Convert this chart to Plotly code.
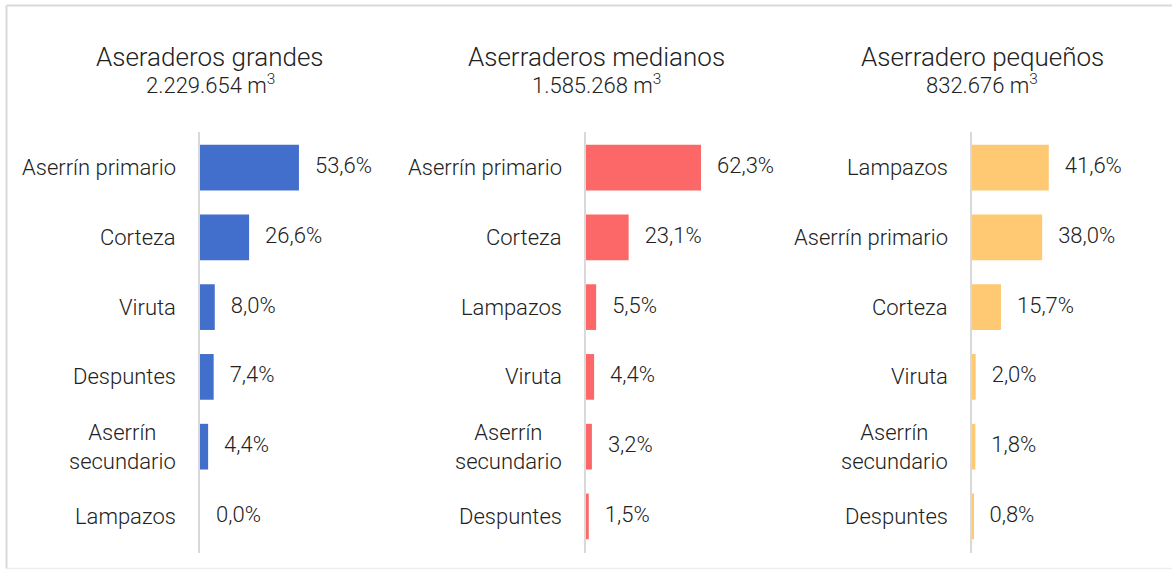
import plotly.graph_objects as go

W, H = 1172, 570

# panel data (top to bottom)
grandes_cat = ["Aserrín primario", "Corteza", "Viruta", "Despuntes", "Aserrín secundario", "Lampazos"]
grandes_val = [53.6, 26.6, 8.0, 7.4, 4.4, 0.0]

medianos_cat = ["Aserrín primario", "Corteza", "Lampazos", "Viruta", "Aserrín secundario", "Despuntes"]
medianos_val = [62.3, 23.1, 5.5, 4.4, 3.2, 1.5]

pequenos_cat = ["Lampazos", "Aserrín primario", "Corteza", "Viruta", "Aserrín secundario", "Despuntes"]
pequenos_val = [41.6, 38.0, 15.7, 2.0, 1.8, 0.8]

titles = ["Aseraderos grandes", "Aserraderos medianos", "Aserradero pequeños"]
volumes = ["2.229.654", "1.585.268", "832.676"]
colors = ["#426ECC", "#FC6868", "#FFC973"]

panels = [
    (grandes_cat, grandes_val),
    (medianos_cat, medianos_val),
    (pequenos_cat, pequenos_val),
]

FONT = "Roboto"
axis_px = [200, 586, 972]
panel_w = 191
xmax = panel_w / 1.846
ydom = [1 - 552.5 / H, 1 - 131.5 / H]

fig = go.Figure()
annotations = []

for i, (cats, vals) in enumerate(panels):
    n = str(i + 1) if i else ""
    xa, ya = "x" + n, "y" + n
    fig.add_trace(go.Bar(
        x=vals, y=cats, orientation="h",
        marker=dict(color=colors[i], line=dict(width=0)),
        xaxis=xa, yaxis=ya, hoverinfo="skip", showlegend=False,
    ))
    labels = [f"{v:.1f}".replace(".", ",") + "%" for v in vals]
    fig.add_trace(go.Scatter(
        x=vals, y=cats, mode="markers+text", text=labels,
        textposition="middle right",
        textfont=dict(family=FONT, size=22, color="#222222", weight=300),
        marker=dict(size=24, opacity=0),
        cliponaxis=True, xaxis=xa, yaxis=ya, hoverinfo="skip", showlegend=False,
    ))
    x0 = axis_px[i] / W
    fig.layout["xaxis" + n] = dict(
        domain=[x0, (axis_px[i] + panel_w) / W], range=[0, xmax], anchor=ya,
        showgrid=False, zeroline=False, showline=False, showticklabels=False,
        fixedrange=True,
    )
    fig.layout["yaxis" + n] = dict(
        domain=ydom, anchor=xa, type="category",
        categoryorder="array", categoryarray=cats, autorange="reversed",
        showgrid=False, zeroline=False, showticklabels=False,
        showline=True, linecolor="#d9d9d9", linewidth=2, fixedrange=True,
    )
    for c in cats:
        annotations.append(dict(
            x=0, y=c, xref=xa + " domain", yref=ya,
            text=c.replace("Aserrín secundario", "Aserrín<br>secundario"),
            xanchor="right", yanchor="middle", align="center", xshift=-22,
            showarrow=False, font=dict(family=FONT, size=22, color="#222222", weight=300),
        ))
    cx = (axis_px[i] + 10) / W
    annotations.append(dict(
        x=cx, y=1 - 57 / H, xref="paper", yref="paper", text=titles[i],
        xanchor="center", yanchor="middle", showarrow=False,
        font=dict(family=FONT, size=26, color="#222222", weight=300),
    ))
    annotations.append(dict(
        x=cx, y=1 - 84 / H, xref="paper", yref="paper",
        text=volumes[i] + " m<sup>3</sup>",
        xanchor="center", yanchor="middle", showarrow=False,
        font=dict(family=FONT, size=22, color="#222222", weight=300),
    ))

shapes = [
    dict(type="line", xref="paper", yref="paper", x0=6.5 / W, x1=1.01, y0=1 - 5.5 / H, y1=1 - 5.5 / H,
         line=dict(color="#d9d9d9", width=2)),
    dict(type="line", xref="paper", yref="paper", x0=6.5 / W, x1=6.5 / W, y0=1 - 5.5 / H, y1=1 - 568.5 / H,
         line=dict(color="#d9d9d9", width=2)),
    dict(type="line", xref="paper", yref="paper", x0=6.5 / W, x1=1.01, y0=1 - 568.5 / H, y1=1 - 568.5 / H,
         line=dict(color="#eeeeee", width=1.5)),
]

fig.update_layout(
    width=W, height=H,
    margin=dict(l=0, r=0, t=0, b=0),
    paper_bgcolor="white", plot_bgcolor="white",
    bargap=0.345,
    annotations=annotations, shapes=shapes,
    font=dict(family=FONT, color="#222222"),
)

fig.write_html(
    "out.html",
    config={"displayModeBar": False},
    post_script="document.body.style.margin='0';document.body.style.overflow='hidden';",
)
